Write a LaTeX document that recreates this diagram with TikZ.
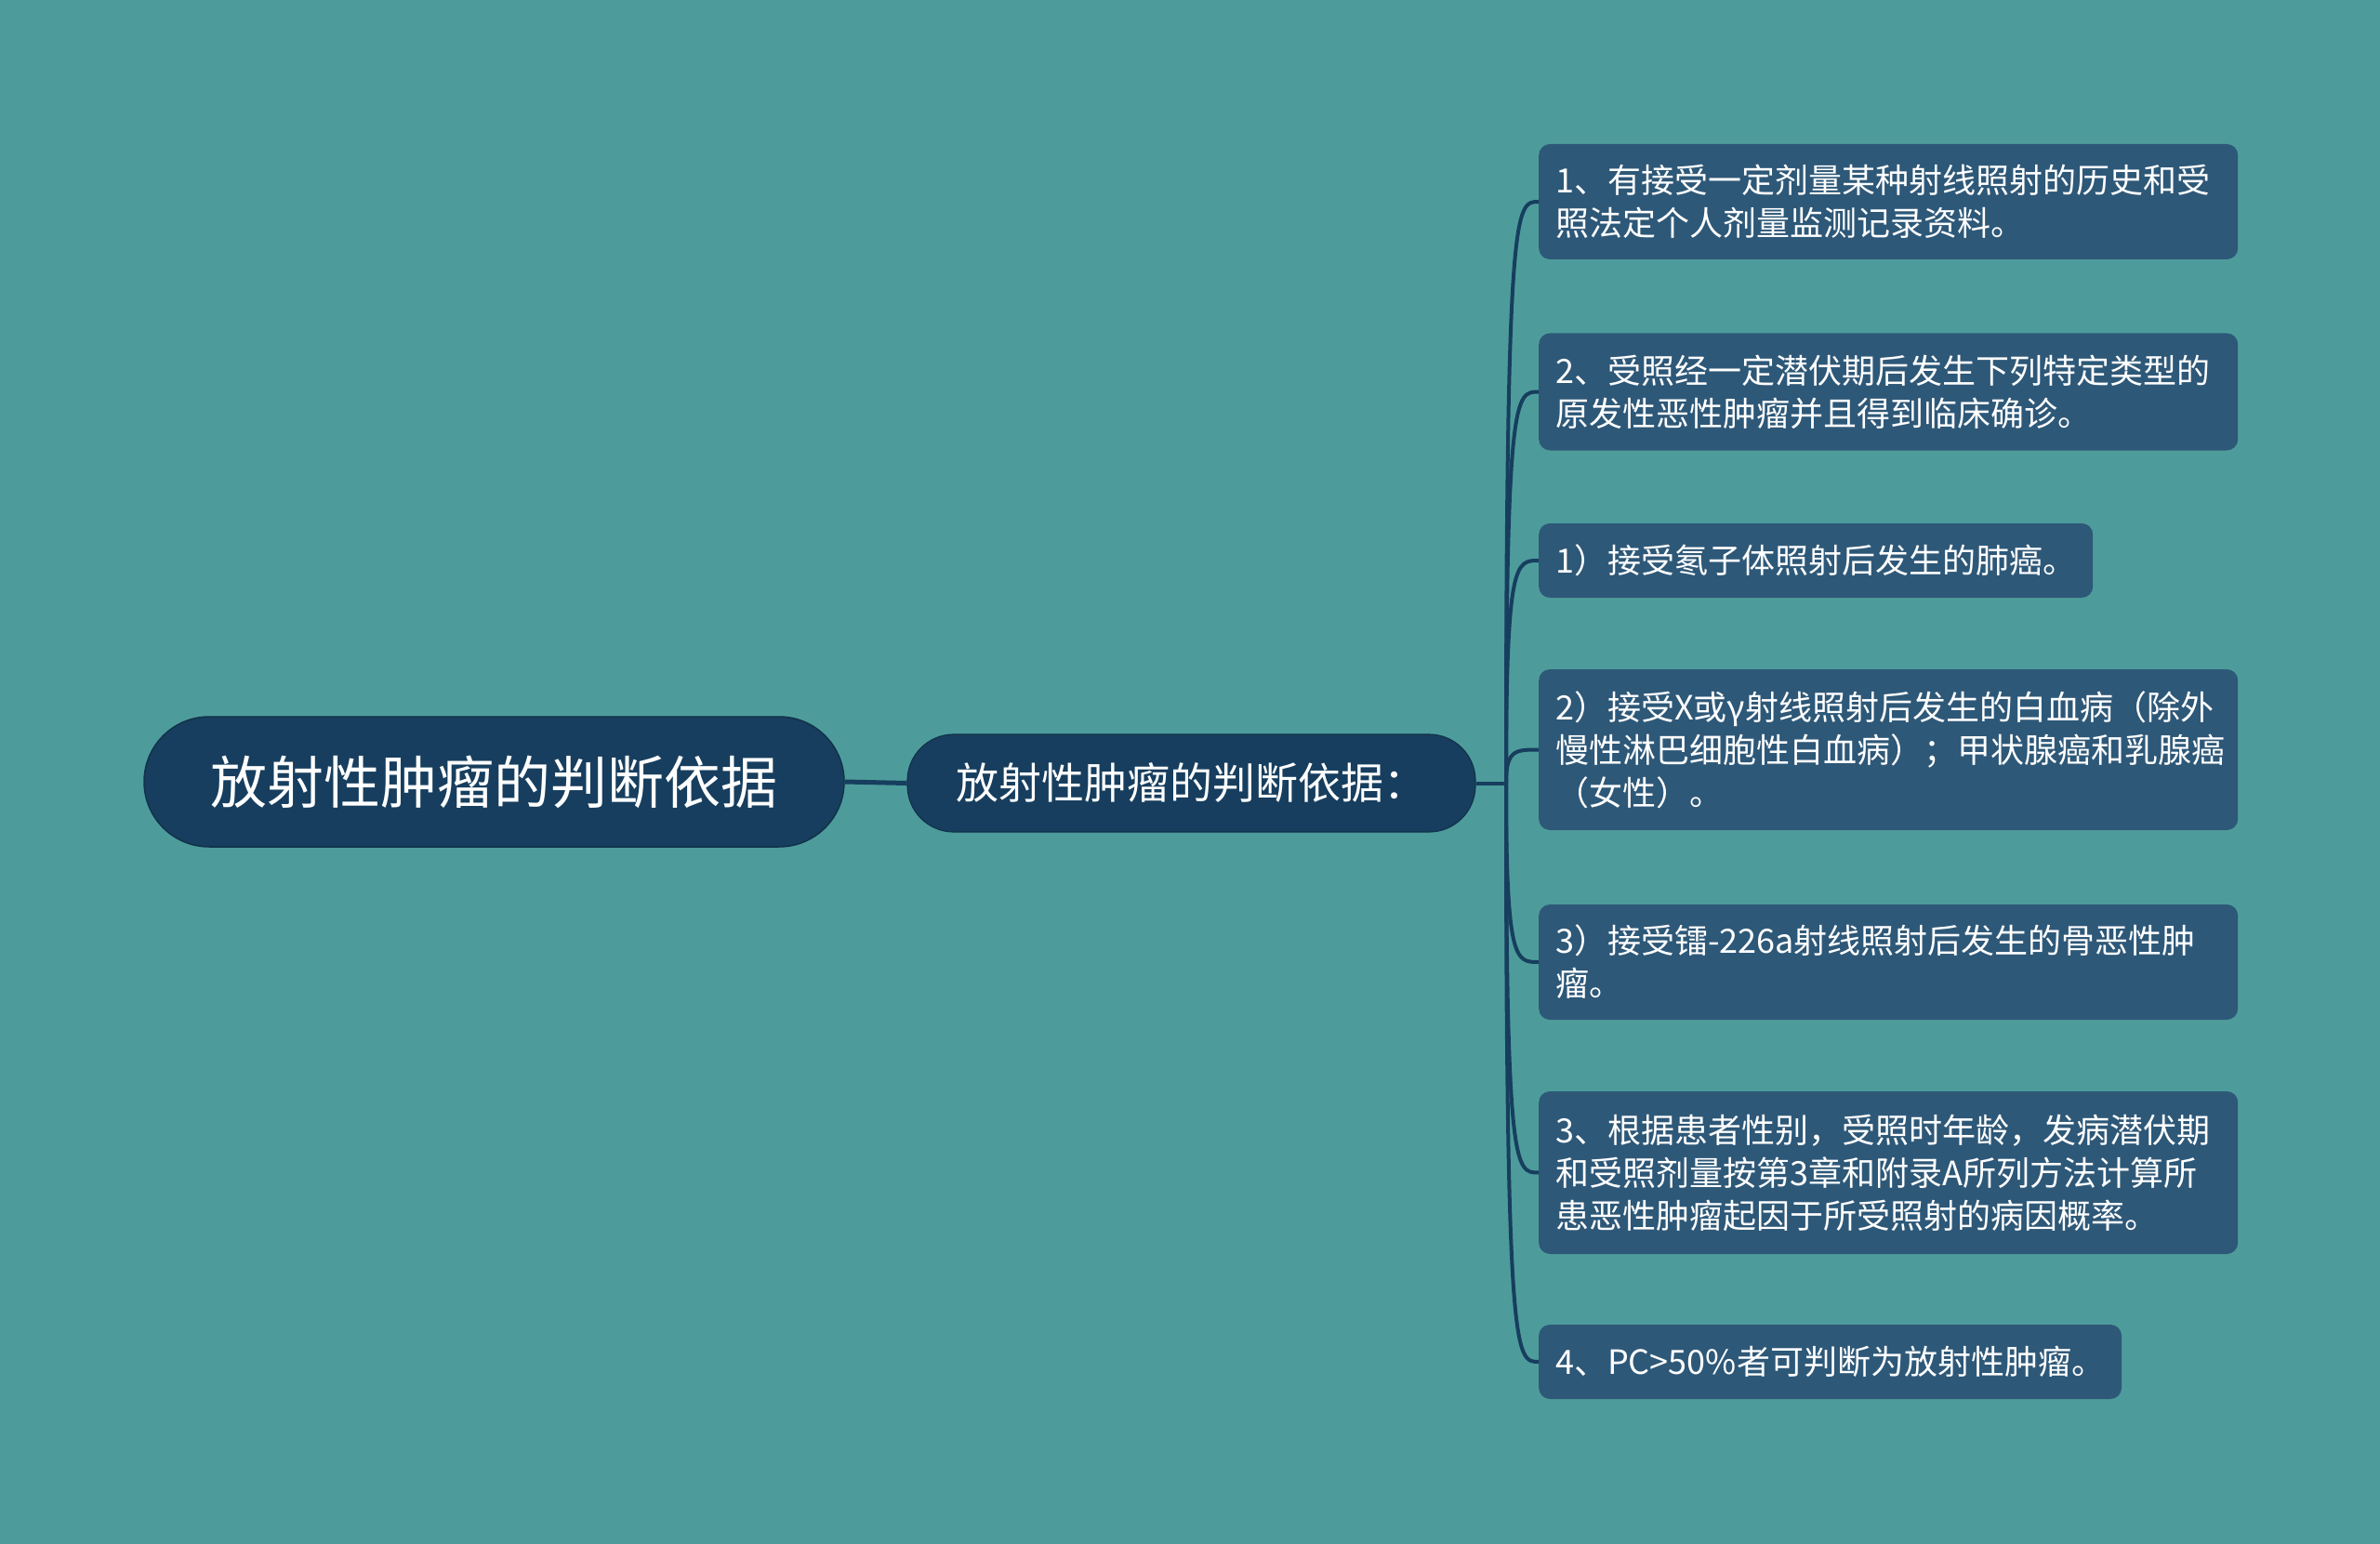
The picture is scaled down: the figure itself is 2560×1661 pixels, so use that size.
\documentclass[tikz,border=0pt]{standalone}
\usepackage{fontspec}
\setmainfont{Noto Sans CJK SC}
\definecolor{bgc}{HTML}{4D9C9B}
\definecolor{darkc}{HTML}{173E5E}
\definecolor{leafc}{HTML}{2E5878}
\definecolor{edgec}{HTML}{173E5E}
\tikzset{
  rootbox/.style={fill=darkc, draw=darkc!80!black, line width=1.5pt, text=white, rounded corners=70pt,
    minimum width=753pt, minimum height=140pt, inner sep=0pt, font=\fontsize{61}{70}\selectfont},
  midbox/.style={fill=darkc, draw=darkc!80!black, line width=1.2pt, text=white, rounded corners=50pt,
    minimum width=611pt, minimum height=105pt, inner sep=0pt, font=\fontsize{46}{54}\selectfont},
  leafbox/.style={fill=leafc, text=white, rounded corners=12pt, anchor=west, inner xsep=18pt, inner ysep=0pt,
    align=left, font=\fontsize{36}{46}\selectfont},
  wideleaf/.style={leafbox, text width=716pt},
  conn/.style={draw=edgec, line width=4pt},
}
\begin{document}
\begin{tikzpicture}[x=1pt,y=-1pt]
\fill[bgc] (0,0) rectangle (2560,1661);
\useasboundingbox (0,0) rectangle (2560,1661);

\node[rootbox] (root) at (531.5,841) {放射性肿瘤的判断依据};
\node[midbox] (mid) at (1281.5,842.5) {放射性肿瘤的判断依据：};
\coordinate (j) at (1620,842.5);

\node[wideleaf, minimum height=124pt] (l1) at (1655,217) {1、有接受一定剂量某种射线照射的历史和受\\照法定个人剂量监测记录资料。};
\node[wideleaf, minimum height=126pt] (l2) at (1655,421.5) {2、受照经一定潜伏期后发生下列特定类型的\\原发性恶性肿瘤并且得到临床确诊。};
\node[leafbox, minimum height=80pt] (l3) at (1655,603) {1）接受氡子体照射后发生的肺癌。};
\node[wideleaf, minimum height=173pt] (l4) at (1655,806.5) {2）接受X或γ射线照射后发生的白血病（除外\\慢性淋巴细胞性白血病）；甲状腺癌和乳腺癌\\（女性）。};
\node[wideleaf, minimum height=124pt] (l5) at (1655,1035) {3）接受镭-226a射线照射后发生的骨恶性肿\\瘤。};
\node[wideleaf, minimum height=175pt] (l6) at (1655,1261.5) {3、根据患者性别，受照时年龄，发病潜伏期\\和受照剂量按第3章和附录A所列方法计算所\\患恶性肿瘤起因于所受照射的病因概率。};
\node[leafbox, minimum height=80pt] (l7) at (1655,1465) {4、PC>50\%者可判断为放射性肿瘤。};

\draw[conn, line width=5pt] (root.east) -- (mid.west);
\draw[conn] (mid.east) -- (j);
\foreach \n in {l1,l2,l3,l4,l5,l6,l7}{
  \draw[conn] (j) .. controls (j |- \n.west) and ([xshift=-25pt]\n.west) .. (\n.west);
}
\end{tikzpicture}
\end{document}
